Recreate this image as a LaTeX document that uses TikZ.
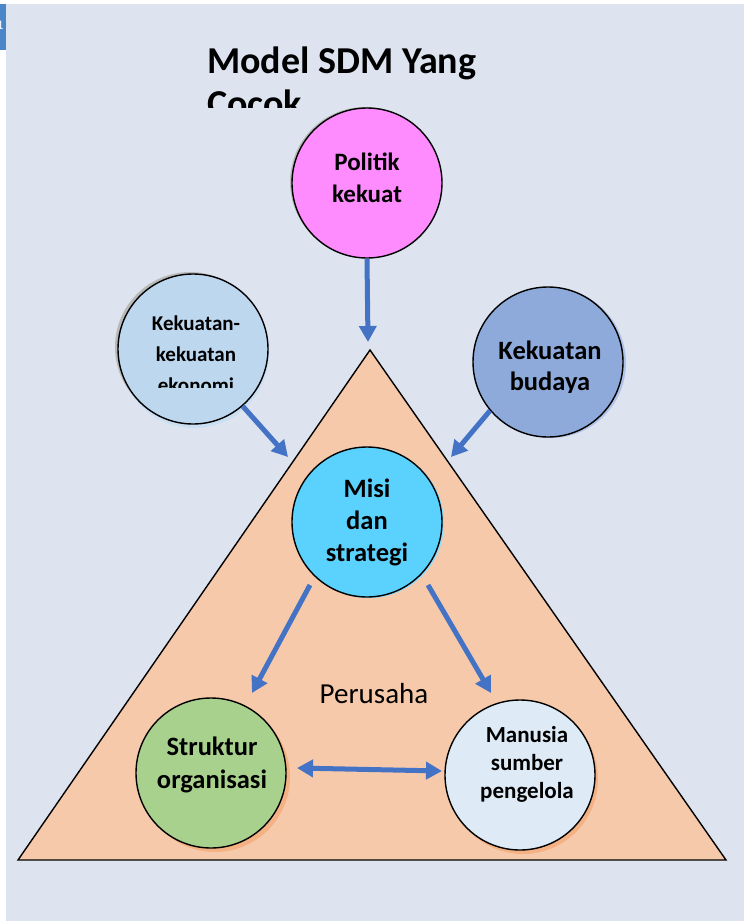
\documentclass[tikz,border=0pt]{standalone}
\usepackage{fontspec}
\setmainfont{Carlito}
\usetikzlibrary{arrows.meta}
\definecolor{bgc}{RGB}{221,228,240}
\definecolor{tabc}{RGB}{74,134,200}
\definecolor{tric}{RGB}{247,201,171}
\definecolor{polc}{RGB}{255,140,255}
\definecolor{ekoc}{RGB}{189,215,238}
\definecolor{budc}{RGB}{142,170,219}
\definecolor{misc}{RGB}{91,209,254}
\definecolor{strc}{RGB}{169,209,142}
\definecolor{manc}{RGB}{222,235,247}
\definecolor{arrc}{RGB}{68,114,196}
\definecolor{shorc}{RGB}{244,177,131}
\definecolor{shgrc}{RGB}{185,185,185}
\begin{document}
\begin{tikzpicture}[x=1pt,y=-1pt,
  circ/.style={circle,draw=black,line width=1.4pt,minimum size=150pt,inner sep=0pt},
  shad/.style={circle,minimum size=150pt,inner sep=0pt},
  lbl/.style={align=center,anchor=base,font=\bfseries\fontsize{26}{32}\selectfont},
  arr/.style={draw=arrc,line width=5pt,-{Triangle[length=16pt,width=17pt]}},
  darr/.style={draw=arrc,line width=5pt,{Triangle[length=16pt,width=17pt]}-{Triangle[length=16pt,width=17pt]}}]
\useasboundingbox (0,0) rectangle (744,921);
\fill[white] (0,0) rectangle (744,921);
\fill[bgc] (6,4) rectangle (744,921);
\fill[tabc] (0,4) rectangle (6,50);
\begin{scope}
  \clip (0,4) rectangle (6,50);
  \node[text=white,font=\fontsize{13}{13}\selectfont,anchor=base east] (tabnum) at (7,29) {1};
\end{scope}
% title
\begin{scope}
  \clip (150,20) rectangle (600,107);
  \node[anchor=base west,align=left,inner sep=0pt,font=\bfseries\fontsize{38}{43}\selectfont] (title) at (207,116) {Model SDM Yang\\Cocok};
\end{scope}
% triangle
\coordinate (apex) at (370,350);
\coordinate (bl) at (18,860);
\coordinate (br) at (726,860);
\draw[fill=tric,line width=1.4pt,line join=miter] (apex) -- (br) -- (bl) -- cycle;
% shadows
\node[shad,fill=shgrc] at (365,182) {};
\node[shad,fill=shgrc] at (190,347) {};
\node[shad,fill=ekoc!80!white] at (194,353) {};
\node[shad,fill=budc!70!white] at (551,363) {};
\node[shad,fill=misc!70!white] at (369,523) {};
\node[shad,fill=shorc] at (215,777) {};
\node[shad,fill=shorc] at (523,779) {};
% circles
\node[circ,fill=polc] (pol) at (367,183) {};
\node[circ,fill=ekoc] (eko) at (193,349) {};
\node[circ,fill=budc] (bud) at (548,362) {};
\node[circ,fill=misc] (misi) at (367,522) {};
\node[circ,fill=strc] (struk) at (211,773) {};
\node[circ,fill=manc] (man) at (520,775) {};
% texts (anchor base = last line)
\node[lbl,font=\bfseries\fontsize{25}{32}\selectfont] (poltxt) at (367,202) {Politik\\kekuat};
\begin{scope}
  \clip (100,270) rectangle (290,387);
  \node[lbl,font=\bfseries\fontsize{21}{31}\selectfont] (ekotxt) at (196,392) {Kekuatan-\\kekuatan\\ekonomi};
\end{scope}
\begin{scope}
  \clip (460,280) rectangle (640,392);
  \node[lbl,font=\bfseries\fontsize{26.5}{31}\selectfont] (budtxt) at (550,390) {Kekuatan\\budaya};
\end{scope}
\node[lbl,font=\bfseries\fontsize{26.5}{32}\selectfont] (mistxt) at (367,561) {Misi\\dan\\strategi};
\node[lbl,font=\bfseries\fontsize{26.5}{33}\selectfont] (strtxt) at (212,788) {Struktur\\organisasi};
\node[lbl,font=\bfseries\fontsize{23}{28}\selectfont] (mantxt) at (527,798) {Manusia\\sumber\\pengelola};
\node[anchor=base,font=\fontsize{29}{29}\selectfont] (perus) at (374,703) {Perusaha};
% arrows
\coordinate (polend) at (368,342);
\coordinate (ekoend) at (288,457);
\coordinate (budend) at (451,457);
\coordinate (ms1) at (310,585);
\coordinate (ms2) at (252,693);
\coordinate (mm1) at (428,585);
\coordinate (mm2) at (491,693);
\coordinate (d1) at (297,768);
\coordinate (d2) at (442,771);
\draw[arr] (pol.south) -- (polend);
\draw[arr] (eko.-49) -- (ekoend);
\draw[arr] (bud.220) -- (budend);
\draw[arr] (ms1) -- (ms2);
\draw[arr] (mm1) -- (mm2);
\draw[darr] (d1) -- (d2);
\end{tikzpicture}
\end{document}
